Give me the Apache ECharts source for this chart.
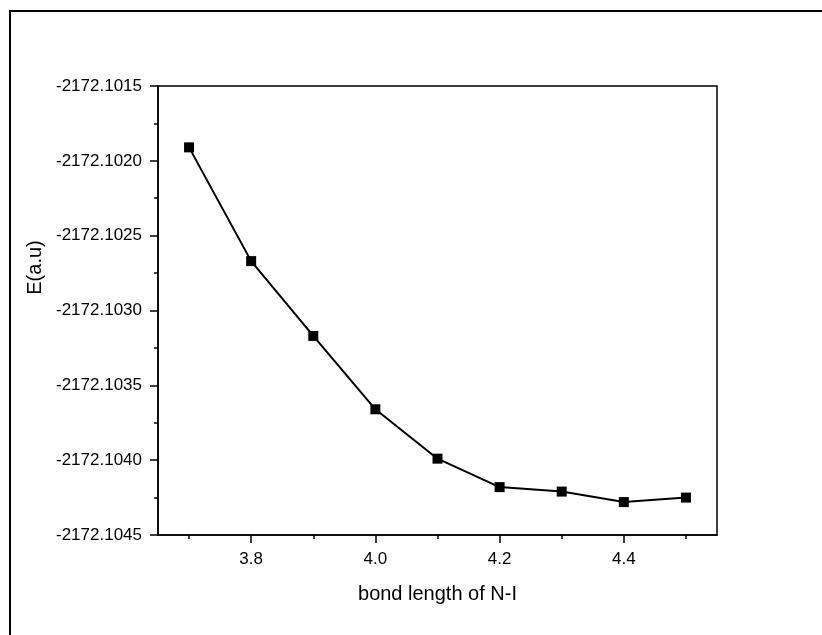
<!DOCTYPE html>
<html>
<head>
<meta charset="utf-8">
<script src="https://cdn.jsdelivr.net/npm/echarts@6/dist/echarts.min.js"></script>
<style>
html,body{margin:0;padding:0;background:#fff;}
#chart{width:822px;height:635px;}
</style>
</head>
<body>
<div id="chart"></div>
<script>
var bondLength = [3.7, 3.8, 3.9, 4.0, 4.1, 4.2, 4.3, 4.4, 4.5];
var energy = [-2172.10191, -2172.10267, -2172.10317, -2172.10366, -2172.10399, -2172.10418, -2172.10421, -2172.10428, -2172.10425];
var xMajorTicks = [3.8, 4.0, 4.2, 4.4];
var xMinorTicks = [3.7, 3.9, 4.1, 4.3, 4.5];
var xLabel = 'bond length of N-I';
var yLabel = 'E(a.u)';

var seriesData = bondLength.map(function (x, i) { return [x, energy[i]]; });
var font = 'Liberation Sans, Arial, sans-serif';

var chart = echarts.init(document.getElementById('chart'), null, {renderer: 'canvas'});
chart.setOption({
  animation: false,
  backgroundColor: '#fff',
  grid: {left: 158, top: 86, right: 105, bottom: 100, show: true, borderColor: '#000', borderWidth: 1.5, backgroundColor: 'transparent'},
  graphic: [{
    type: 'rect', silent: true,
    shape: {x: 10, y: 11, width: 900, height: 700},
    style: {fill: 'none', stroke: '#000', lineWidth: 2}
  }],
  xAxis: [{
    type: 'value', min: 3.65, max: 4.55,
    name: xLabel, nameLocation: 'middle', nameGap: 49,
    nameTextStyle: {fontFamily: font, fontSize: 20, color: '#000'},
    axisLine: {show: true, onZero: false, lineStyle: {color: '#000', width: 1.5}},
    axisTick: {show: true, inside: false, length: 8, lineStyle: {color: '#000', width: 1.5}, customValues: xMajorTicks},
    axisLabel: {show: true, margin: 16, fontFamily: font, fontSize: 17, color: '#000', customValues: xMajorTicks,
      formatter: function (v) { return v.toFixed(1); }},
    splitLine: {show: false}
  }, {
    type: 'value', min: 3.65, max: 4.55, position: 'bottom',
    axisLine: {show: false},
    axisTick: {show: true, inside: false, length: 4, lineStyle: {color: '#000', width: 1.5}, customValues: xMinorTicks},
    axisLabel: {show: false},
    splitLine: {show: false}
  }],
  yAxis: {
    type: 'value', min: -2172.1045, max: -2172.1015, interval: 0.0005,
    name: yLabel, nameLocation: 'middle', nameGap: 108,
    nameTextStyle: {fontFamily: font, fontSize: 20, color: '#000', padding: [0, 0, 0, 86]},
    axisLine: {show: true, onZero: false, lineStyle: {color: '#000', width: 1.5}},
    axisTick: {show: true, inside: false, length: 8, lineStyle: {color: '#000', width: 1.5}},
    minorTick: {show: true, splitNumber: 2, length: 4, lineStyle: {color: '#000', width: 1.5}},
    axisLabel: {margin: 16, fontFamily: font, fontSize: 17, color: '#000',
      formatter: function (v) { return v.toFixed(4); }},
    splitLine: {show: false}
  },
  series: [{
    type: 'line', xAxisIndex: 0,
    data: seriesData,
    symbol: 'rect', symbolSize: 10,
    lineStyle: {color: '#000', width: 2},
    itemStyle: {color: '#000'}
  }]
});
</script>
</body>
</html>
